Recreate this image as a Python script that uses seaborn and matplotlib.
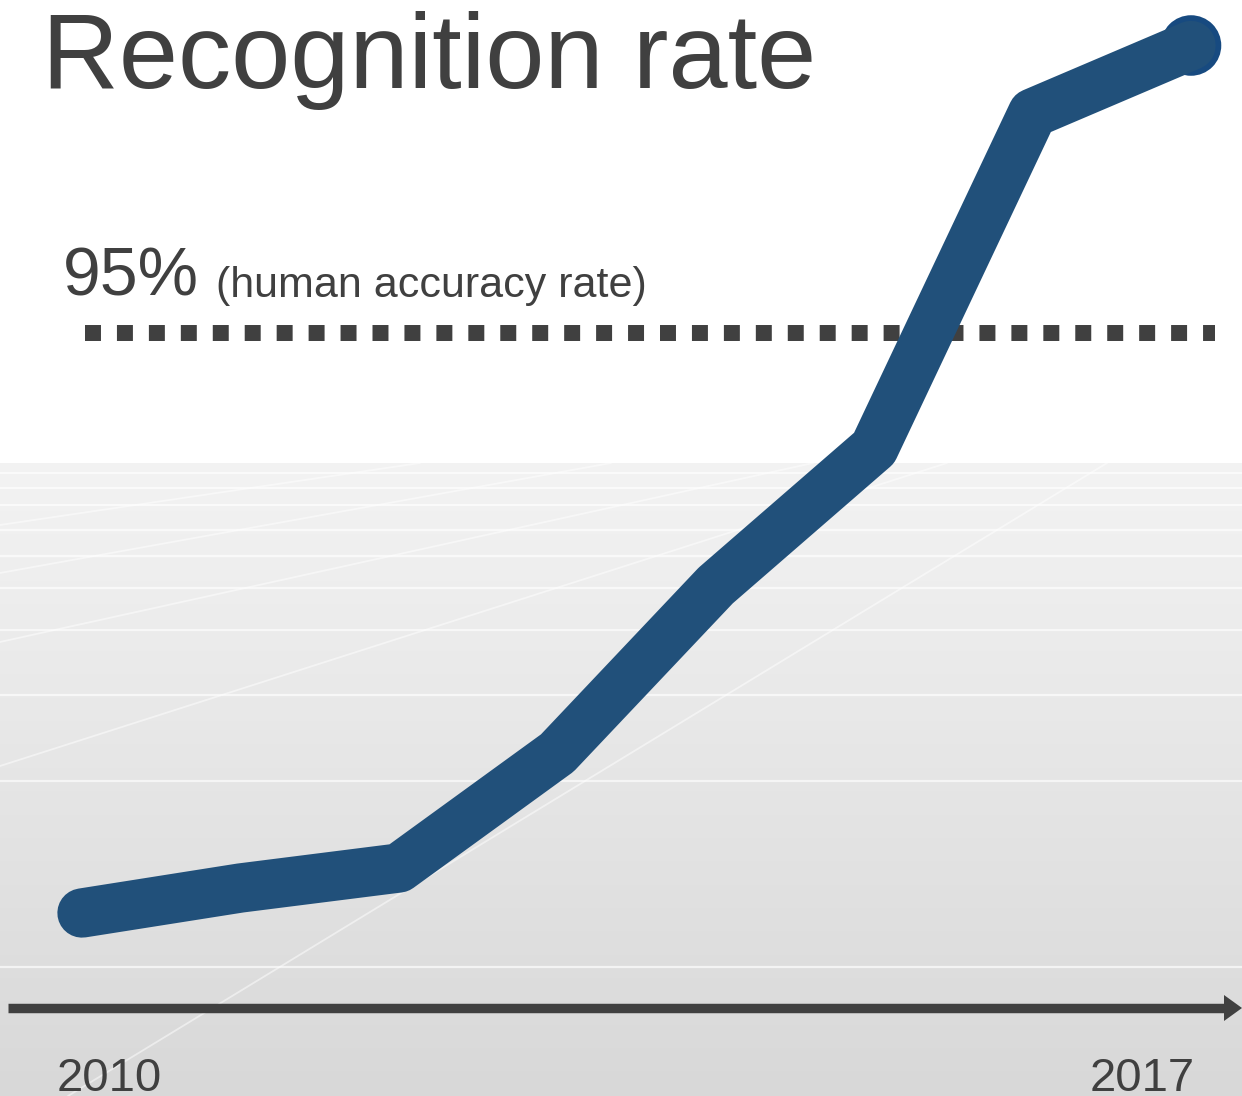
import numpy as np
import pandas as pd
import matplotlib
matplotlib.use("Agg")
import matplotlib.pyplot as plt
import seaborn as sns
from matplotlib.colors import LinearSegmentedColormap
from matplotlib.patches import Polygon

# ---- data ----
years = [2010, 2011, 2012, 2013, 2014, 2015, 2016, 2017]
rates = [71.8, 72.8, 73.6, 78.2, 84.9, 90.4, 103.8, 106.5]
human_rate = 95
title_text = "Recognition rate"
human_big = "95%"
human_small = "(human accuracy rate)"
tick_labels = ["2010", "2017"]

sns.set_theme(style="white")
plt.rcParams["font.family"] = ["Liberation Sans", "DejaVu Sans"]

W, H = 1242, 1096
TXT = "#404040"
fig = plt.figure(figsize=(W / 100, H / 100), dpi=100)
fig.patch.set_facecolor("white")

# ---- background (gradient floor with faint texture) ----
bg = fig.add_axes([0, 0, 1, 1], zorder=0)
grad = np.linspace(0, 1, 256).reshape(-1, 1)
cmap = LinearSegmentedColormap.from_list("floor", ["#f3f3f3", "#d8d8d8"])
bg.imshow(grad, extent=(0, W, H, 463), cmap=cmap, aspect="auto", interpolation="bicubic")
for yy in [473, 488, 505, 530, 556, 588, 630, 695, 781, 967]:
    bg.plot([0, W], [yy, yy], color="white", lw=1.6, alpha=0.65)
for (x0, y0, x1, y1) in [(68, 1096, 1107, 463), (0, 766, 947, 463), (0, 642, 813, 463),
                         (0, 573, 611, 463), (0, 525, 420, 463)]:
    bg.plot([x0, x1], [y0, y1], color="white", lw=1.3, alpha=0.5)
bg.set_xlim(0, W)
bg.set_ylim(H, 0)
bg.axis("off")

# ---- main axes ----
ax = fig.add_axes([0, 0, 1, 1], zorder=1)
ax.patch.set_alpha(0)
ppy = (1191 - 82) / 7.0
ax.set_xlim(2010 - 82 / ppy, 2017 + (W - 1191) / ppy)
ax.set_ylim(95 - (H - 333) / 25.0, 95 + 333 / 25.0)
ax.axis("off")

df = pd.DataFrame({"year": years, "rate": rates})
sns.scatterplot(x=years[-1:], y=rates[-1:], ax=ax, s=1900, color="#174a80",
                edgecolor="none", zorder=2, legend=False)
sns.lineplot(data=df, x="year", y="rate", ax=ax, color="#21507a", lw=35.5,
             solid_capstyle="round", solid_joinstyle="round", zorder=3)

# human accuracy dotted line
ax.plot([85 / W, 1215 / W], [human_rate, human_rate], transform=ax.get_yaxis_transform(),
        color=TXT, lw=11.5, dashes=(1, 1), dash_capstyle="butt", zorder=2)

# time axis arrow
ya = 1 - 1008 / H
ax.plot([8 / W, 1226 / W], [ya, ya], transform=ax.transAxes, color=TXT, lw=6.8,
        solid_capstyle="butt", zorder=2)
ax.add_patch(Polygon([(1224 / W, 1 - 995 / H), (1242 / W, ya), (1224 / W, 1 - 1021 / H)],
                     closed=True, transform=ax.transAxes, color=TXT, lw=0, zorder=2))

# texts
ax.text(42 / W, 1 - 88 / H, title_text, transform=ax.transAxes, fontsize=76.5, color=TXT,
        ha="left", va="baseline")
ax.text(63 / W, 1 - 295 / H, human_big, transform=ax.transAxes, fontsize=49, color=TXT,
        ha="left", va="baseline")
ax.text(216 / W, 1 - 297 / H, human_small, transform=ax.transAxes, fontsize=31, color=TXT,
        ha="left", va="baseline")
ax.text(57 / W, 1 - 1091 / H, tick_labels[0], transform=ax.transAxes, fontsize=34,
        color=TXT, ha="left", va="baseline")
ax.text(1195 / W, 1 - 1091 / H, tick_labels[1], transform=ax.transAxes, fontsize=34,
        color=TXT, ha="right", va="baseline")

fig.savefig("out.png", dpi=100)
